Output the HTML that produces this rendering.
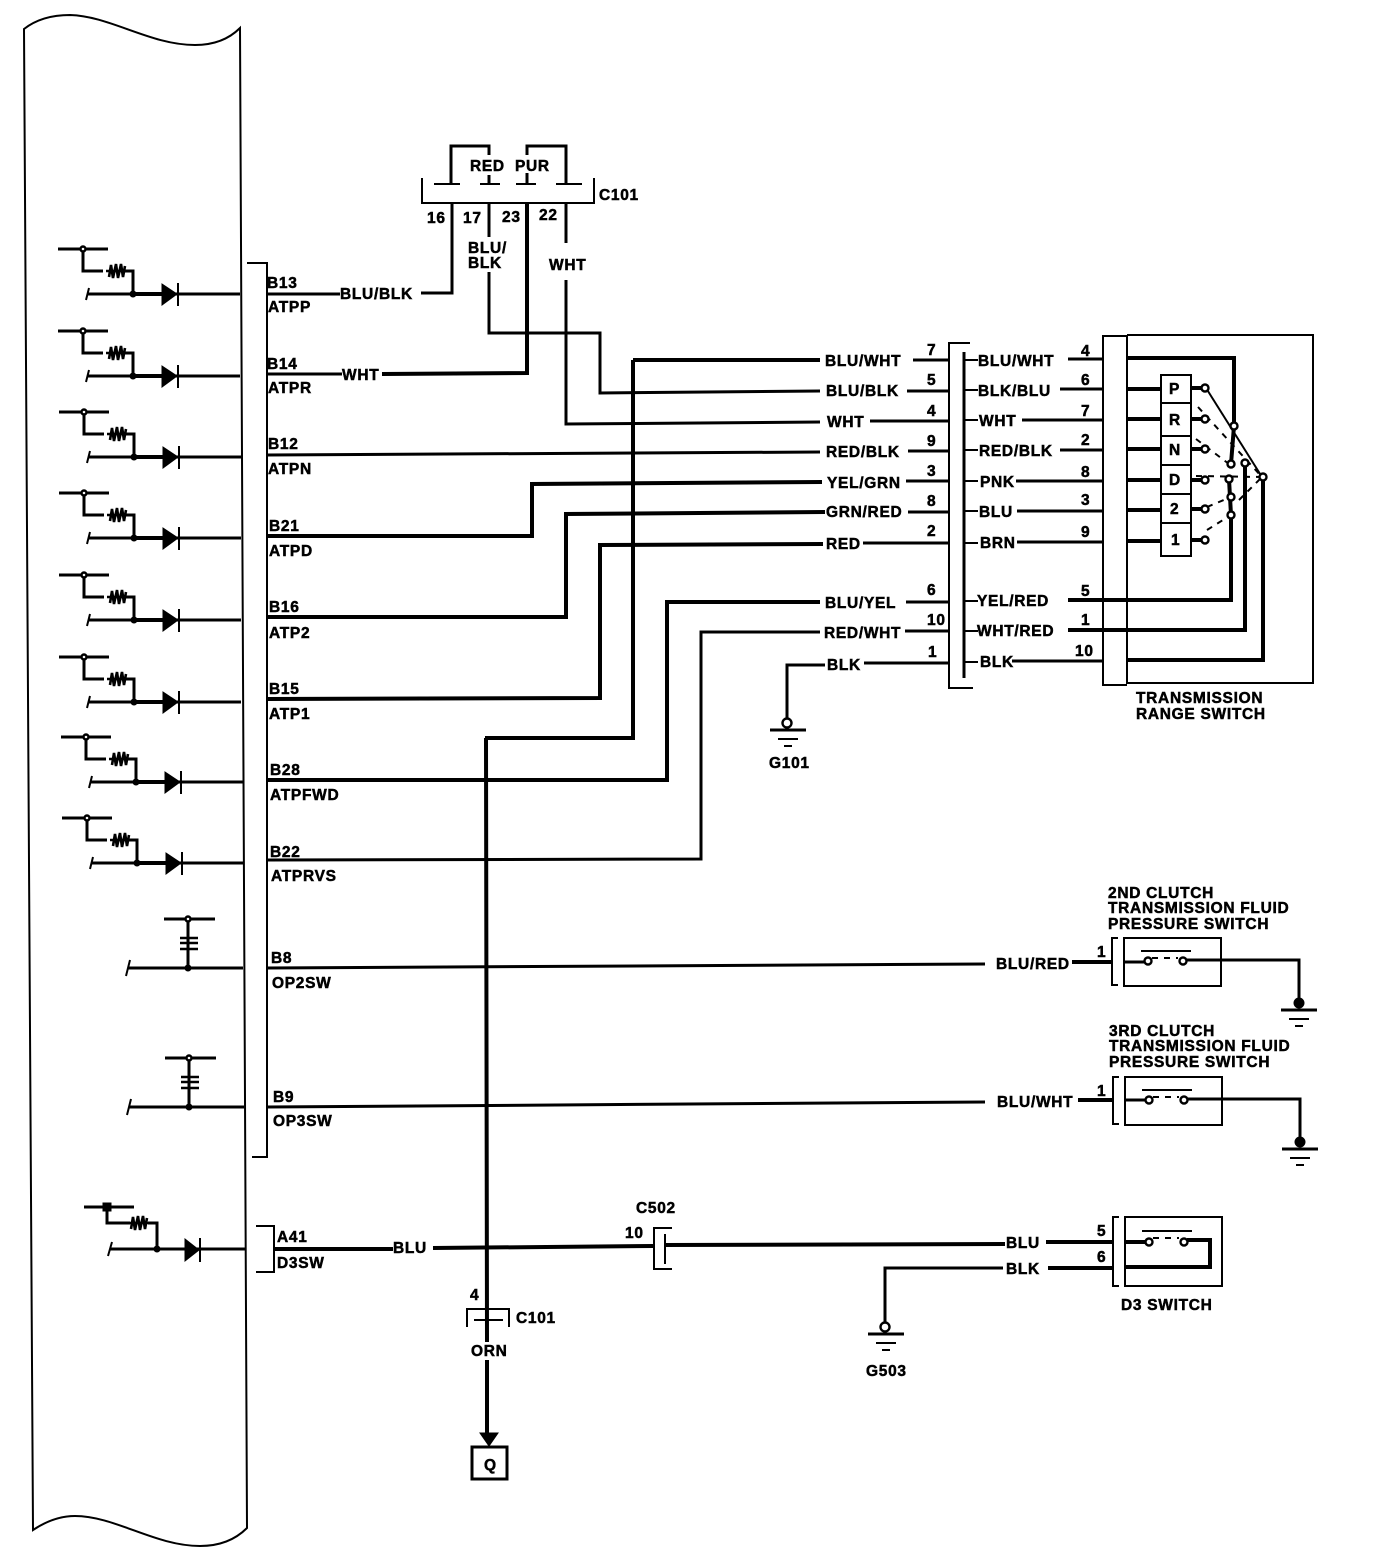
<!DOCTYPE html>
<html><head><meta charset="utf-8"><style>
html,body{margin:0;padding:0;background:#fff}
svg{display:block}
text{font-family:"Liberation Sans",sans-serif;font-weight:bold;font-size:15.5px;fill:#000;stroke:#000;stroke-width:.5px;letter-spacing:.7px}
.w{fill:none;stroke:#000;stroke-width:3}
.t{fill:none;stroke:#000;stroke-width:2}
.k{fill:none;stroke:#000;stroke-width:4}
.b{fill:none;stroke:#000;stroke-width:2.6}
.d{fill:none;stroke:#000;stroke-width:2;stroke-dasharray:6 6}
.n{fill:#fff;stroke:#000;stroke-width:2.4}
.f{fill:#000;stroke:#000;stroke-width:1}
</style></head><body>
<svg width="1376" height="1568" viewBox="0 0 1376 1568" xmlns="http://www.w3.org/2000/svg">
<defs>
<g id="res"><path class="b" d="M-11 0L11 0"/><path class="b" d="M-8 6L-6-6L-4 7L-1-7L1 7L4-7L6 6L8-5"/></g>
<g id="ecu">
<path class="w" d="M-25 0L25 0M0 0L0 22L20 22M42 22L50 22L50 45"/>
<use href="#res" x="34" y="22"/>
<circle class="n" cx="0" cy="0" r="2.5"/>
<path class="w" d="M4 45L157 45" />
<path class="k" d="M50 45L80 45"/>
<path class="t" d="M6 39L3 51"/>
<circle class="f" cx="50" cy="45" r="3"/>
<path class="f" d="M79 35L94 45L79 56Z"/>
<path class="t" d="M95 34L95 57"/>
</g>
<g id="rsw">
<path class="w" d="M-24 0L27 0M0 0L0 49"/>
<path class="b" d="M-8 19L10 19M-8 24L10 24M-8 30L10 30"/>
<circle class="n" cx="0" cy="0" r="2.5"/>
<circle class="f" cx="0" cy="49" r="3"/>
<path class="w" d="M-60 49L55 49"/>
<path class="t" d="M-58 41L-62 57"/>
</g>
<g id="gnd">
<path class="w" d="M-18 0L18 0"/><path class="t" d="M-10 9L10 9M-4 16L4 16"/>
</g>
</defs>

<!-- ECU outline -->
<path class="t" d="M24 29C38 18 55 15 70 15C110 16 150 45 195 45C215 45 230 38 240 28L247 1528C235 1540 220 1546 200 1546C155 1546 115 1516 75 1516C60 1516 45 1522 33 1530L24 29Z"/>

<!-- ECU driver circuits -->
<use href="#ecu" x="83" y="249"/>
<use href="#ecu" x="83" y="331"/>
<use href="#ecu" x="84" y="412"/>
<use href="#ecu" x="84" y="493"/>
<use href="#ecu" x="84" y="575"/>
<use href="#ecu" x="84" y="657"/>
<use href="#ecu" x="86" y="737"/>
<use href="#ecu" x="87" y="818"/>
<use href="#rsw" x="188" y="919"/>
<use href="#rsw" x="189" y="1058"/>
<path class="w" d="M84 1207L134 1207M107 1207L107 1223L130 1223M148 1223L157 1223L157 1249M110 1249L245 1249"/>
<use href="#res" x="139" y="1223"/>
<rect x="103" y="1203" width="8" height="8" class="f"/>
<path class="t" d="M112 1242L108 1256"/>
<circle class="f" cx="157" cy="1249" r="3"/>
<path class="f" d="M185 1239L199 1250L185 1261Z"/>
<path class="t" d="M200 1238L200 1262"/>

<!-- ECU bracket -->
<path class="t" d="M247 263L267 263L267 1157L252 1157"/>
<path class="t" d="M256 1226L274 1226L274 1272L256 1272"/>

<!-- Top connector C101 -->
<path class="t" d="M422 178L422 203L594 203L594 178"/>
<path class="t" d="M434 184L460 184M480 184L500 184M516 184L536 184M556 184L582 184"/>
<path class="w" d="M451 184L451 146L489 146L489 155M489 175L489 184M527 173L527 184M527 155L527 146L566 146L566 184"/>
<path class="w" d="M421 293L452 293L452 203M489 203L489 237M489 272L489 333L600 333L600 393L820 391"/>
<path class="k" d="M527 203L527 373L382 374"/>
<path class="w" d="M566 203L566 243M566 280L566 424L820 422"/>

<!-- Left side wires -->
<path class="w" d="M267 294L340 294M267 374L342 374"/>
<path class="w" d="M267 455L820 452"/>
<path class="k" d="M267 536L532 536L532 484L822 482"/>
<path class="k" d="M267 617L566 617L566 514L825 512"/>
<path class="k" d="M267 699L600 698L600 545L823 544"/>
<path class="k" d="M267 780L667 780L667 602L820 602"/>
<path class="w" d="M267 860L701 859L701 632L820 632"/>
<path class="k" d="M633 360L820 360M633 360L633 738L485 738"/>
<path class="k" d="M486 738L487 1342M487 1360L487 1435"/>
<path class="f" d="M480 1433L498 1433L489 1446Z"/>
<rect x="472" y="1447" width="35" height="32" class="w"/>
<path class="w" d="M267 968L985 964"/>
<path class="w" d="M267 1107L985 1102"/>
<path class="k" d="M275 1249L393 1249M433 1248L653 1246"/>

<!-- Lower C101 -->
<path class="t" d="M467 1327L467 1309L509 1309L509 1327"/>
<path class="t" d="M474 1320L503 1320"/>

<!-- C502 -->
<path class="t" d="M672 1228L654 1228L654 1269L672 1269M665 1234L665 1264"/>
<path class="k" d="M665 1245L1005 1244"/>

<!-- Middle connector -->
<path class="t" d="M970 343L949 343L949 688L973 688"/>
<path class="w" d="M964 352L964 678"/>
<path class="w" d="M913 360L948 360M907 391L948 391M870 421L948 421M908 451L948 451M906 481L948 481M908 512L948 512M863 543L948 543M906 602L948 602M905 631L948 631M864 663L948 663"/>
<path class="t" d="M964 360L978 360M964 390L978 390M964 420L978 420M964 450L978 450M964 481L978 481M964 511L978 511M964 543L978 543M964 601L978 601M964 631L978 631M964 662L978 662"/>
<path class="w" d="M825 665L787 665L787 719"/>
<circle class="n" cx="787" cy="723" r="4.5"/>
<use href="#gnd" x="788" y="730"/>

<!-- Right wires -->
<path class="w" d="M1068 359L1102 359M1060 389L1102 389M1022 420L1102 420M1060 450L1102 450M1016 481L1102 481M1017 511L1102 511M1017 542L1102 542M1068 600L1102 600M1068 630L1102 630M1012 661L1102 661"/>

<!-- Range switch -->
<path class="t" d="M1127 336L1103 336L1103 685L1127 685"/>
<path class="t" d="M1127 335L1313 335L1313 683L1127 683L1127 335"/>
<rect x="1161" y="375" width="30" height="181" class="t"/>
<path class="t" d="M1161 403L1191 403M1161 436L1191 436M1161 465L1191 465M1161 494L1191 494M1161 523L1191 523"/>
<path class="k" d="M1127 358L1234 358L1234 426L1231 464"/>
<path class="k" d="M1127 389L1161 389M1127 419L1161 419M1127 449L1161 449M1127 480L1161 480M1127 510L1161 510M1127 541L1161 541"/>
<path class="k" d="M1190 388L1205 388M1190 419L1205 419M1190 449L1205 449M1190 480L1205 480M1190 509L1205 509M1190 540L1205 540"/>
<path class="t" d="M1206 388L1262 477"/>
<path class="d" d="M1198 407L1262 477M1196 439L1229 464M1196 476L1262 477M1207 507L1231 497M1207 530L1231 515M1239 500L1262 477"/>
<path class="k" d="M1231 515L1231 600L1068 600M1245 462L1245 630L1068 630M1263 477L1263 660L1127 660M1229 479L1231 515"/>
<circle class="n" cx="1205" cy="388" r="3.5"/><circle class="n" cx="1205" cy="419" r="3.5"/><circle class="n" cx="1205" cy="449" r="3.5"/><circle class="n" cx="1205" cy="480" r="3.5"/><circle class="n" cx="1205" cy="509" r="3.5"/><circle class="n" cx="1205" cy="540" r="3.5"/>
<circle class="n" cx="1234" cy="426" r="3.5"/><circle class="n" cx="1231" cy="464" r="3.5"/><circle class="n" cx="1245" cy="463" r="3.5"/><circle class="n" cx="1263" cy="477" r="3.5"/><circle class="n" cx="1229" cy="479" r="3.5"/><circle class="n" cx="1231" cy="497" r="3.5"/><circle class="n" cx="1231" cy="515" r="3.5"/>

<!-- 2nd clutch -->
<path class="k" d="M1072 962L1112 962"/>
<path class="t" d="M1118 938L1112 938L1112 985L1118 985"/>
<rect x="1124" y="938" width="97" height="48" class="t"/>
<path class="t" d="M1141 951L1191 951"/>
<path class="w" d="M1124 962L1145 962M1187 960L1299 960L1299 1000"/>
<path class="d" d="M1152 958L1178 958" stroke-dasharray="4 4"/>
<circle class="n" cx="1148" cy="961" r="3.5"/><circle class="n" cx="1183" cy="961" r="3.5"/>
<circle class="f" cx="1299" cy="1003" r="5"/>
<use href="#gnd" x="1299" y="1010"/>

<!-- 3rd clutch -->
<path class="k" d="M1078 1100L1113 1100"/>
<path class="t" d="M1119 1077L1113 1077L1113 1124L1119 1124"/>
<rect x="1125" y="1077" width="97" height="48" class="t"/>
<path class="t" d="M1142 1090L1192 1090"/>
<path class="w" d="M1125 1100L1146 1100M1188 1099L1300 1099L1300 1139"/>
<path class="d" d="M1153 1097L1179 1097" stroke-dasharray="4 4"/>
<circle class="n" cx="1149" cy="1100" r="3.5"/><circle class="n" cx="1184" cy="1100" r="3.5"/>
<circle class="f" cx="1300" cy="1142" r="5"/>
<use href="#gnd" x="1300" y="1149"/>

<!-- D3 switch -->
<path class="t" d="M1119 1217L1113 1217L1113 1286L1119 1286"/>
<rect x="1125" y="1217" width="97" height="69" class="t"/>
<path class="t" d="M1142 1231L1192 1231"/>
<path class="k" d="M1046 1242L1113 1242M1048 1268L1113 1268"/>
<path class="k" d="M1125 1242L1146 1242M1125 1267L1210 1267L1210 1240L1187 1240"/>
<path class="d" d="M1153 1238L1179 1238" stroke-dasharray="4 4"/>
<circle class="n" cx="1149" cy="1242" r="3.5"/><circle class="n" cx="1184" cy="1242" r="3.5"/>
<path class="w" d="M1003 1268L885 1268L885 1322"/>
<circle class="n" cx="885" cy="1327" r="4.5"/>
<use href="#gnd" x="886" y="1334"/>

<!-- Labels: top connector -->
<text x="470" y="171">RED</text><text x="515" y="171">PUR</text>
<text x="599" y="200">C101</text>
<text x="427" y="223">16</text><text x="463" y="223">17</text><text x="502" y="222">23</text><text x="539" y="220">22</text>
<text x="468" y="253">BLU/</text><text x="468" y="268">BLK</text><text x="549" y="270">WHT</text>

<!-- Labels: ECU -->
<text x="267" y="288">B13</text><text x="268" y="312">ATPP</text><text x="340" y="299">BLU/BLK</text>
<text x="267" y="369">B14</text><text x="268" y="393">ATPR</text><text x="342" y="380">WHT</text>
<text x="268" y="449">B12</text><text x="268" y="474">ATPN</text>
<text x="269" y="531">B21</text><text x="269" y="556">ATPD</text>
<text x="269" y="612">B16</text><text x="269" y="638">ATP2</text>
<text x="269" y="694">B15</text><text x="269" y="719">ATP1</text>
<text x="270" y="775">B28</text><text x="270" y="800">ATPFWD</text>
<text x="270" y="857">B22</text><text x="271" y="881">ATPRVS</text>
<text x="271" y="963">B8</text><text x="272" y="988">OP2SW</text>
<text x="273" y="1102">B9</text><text x="273" y="1126">OP3SW</text>
<text x="277" y="1242">A41</text><text x="277" y="1268">D3SW</text>
<text x="393" y="1253">BLU</text>

<!-- Labels: middle left -->
<text x="825" y="366">BLU/WHT</text><text x="826" y="396">BLU/BLK</text><text x="827" y="427">WHT</text><text x="826" y="457">RED/BLK</text>
<text x="827" y="488">YEL/GRN</text><text x="826" y="517">GRN/RED</text><text x="826" y="549">RED</text>
<text x="825" y="608">BLU/YEL</text><text x="824" y="638">RED/WHT</text><text x="827" y="670">BLK</text>
<text x="927" y="355">7</text><text x="927" y="385">5</text><text x="927" y="416">4</text><text x="927" y="446">9</text><text x="927" y="476">3</text><text x="927" y="506">8</text><text x="927" y="536">2</text><text x="927" y="595">6</text><text x="927" y="625">10</text><text x="928" y="657">1</text>

<!-- Labels: middle right -->
<text x="978" y="366">BLU/WHT</text><text x="978" y="396">BLK/BLU</text><text x="979" y="426">WHT</text><text x="979" y="456">RED/BLK</text>
<text x="980" y="487">PNK</text><text x="979" y="517">BLU</text><text x="980" y="548">BRN</text>
<text x="977" y="606">YEL/RED</text><text x="977" y="636">WHT/RED</text><text x="980" y="667">BLK</text>
<text x="1081" y="356">4</text><text x="1081" y="385">6</text><text x="1081" y="416">7</text><text x="1081" y="445">2</text><text x="1081" y="477">8</text><text x="1081" y="505">3</text><text x="1081" y="537">9</text><text x="1081" y="596">5</text><text x="1081" y="625">1</text><text x="1075" y="656">10</text>

<!-- Switch letters -->
<text x="1169" y="394">P</text><text x="1169" y="425">R</text><text x="1169" y="455">N</text><text x="1169" y="485">D</text><text x="1170" y="514">2</text><text x="1171" y="545">1</text>

<text x="1136" y="703">TRANSMISSION</text><text x="1136" y="719">RANGE SWITCH</text>
<text x="769" y="768">G101</text>

<text x="1108" y="898">2ND CLUTCH</text><text x="1108" y="913">TRANSMISSION FLUID</text><text x="1108" y="929">PRESSURE SWITCH</text>
<text x="996" y="969">BLU/RED</text><text x="1097" y="957">1</text>
<text x="1109" y="1036">3RD CLUTCH</text><text x="1109" y="1051">TRANSMISSION FLUID</text><text x="1109" y="1067">PRESSURE SWITCH</text>
<text x="997" y="1107">BLU/WHT</text><text x="1097" y="1096">1</text>

<text x="636" y="1213">C502</text><text x="625" y="1238">10</text>
<text x="1006" y="1248">BLU</text><text x="1006" y="1274">BLK</text>
<text x="1097" y="1236">5</text><text x="1097" y="1262">6</text>
<text x="1121" y="1310">D3 SWITCH</text>
<text x="866" y="1376">G503</text>
<text x="470" y="1300">4</text><text x="516" y="1323">C101</text><text x="471" y="1356">ORN</text>
<text x="484" y="1470">Q</text>
</svg>
</body></html>
